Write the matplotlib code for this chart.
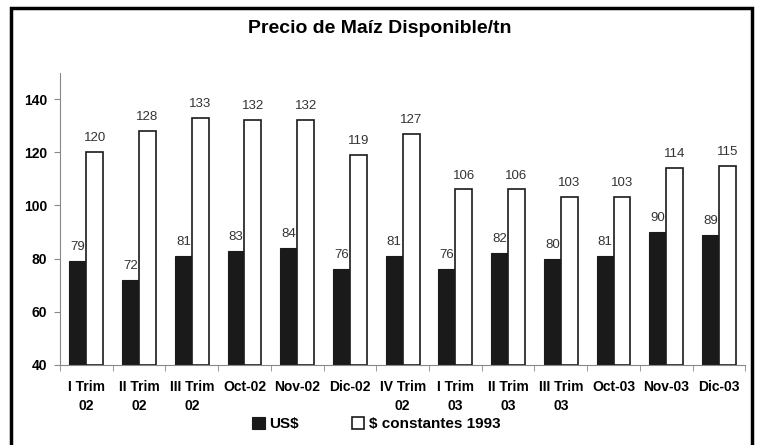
import matplotlib
matplotlib.use("Agg")
import matplotlib.pyplot as plt
import numpy as np
from matplotlib.patches import Rectangle

categories = ["I Trim\n02", "II Trim\n02", "III Trim\n02", "Oct-02", "Nov-02", "Dic-02",
              "IV Trim\n02", "I Trim\n03", "II Trim\n03", "III Trim\n03", "Oct-03", "Nov-03", "Dic-03"]
usd = [79, 72, 81, 83, 84, 76, 81, 76, 82, 80, 81, 90, 89]
constantes = [120, 128, 133, 132, 132, 119, 127, 106, 106, 103, 103, 114, 115]
yticks = [40, 60, 80, 100, 120, 140]

plt.rcParams['font.family'] = ['Liberation Sans', 'DejaVu Sans']

fig = plt.figure(figsize=(7.59, 4.45), dpi=100)
ax = fig.add_axes([0.079, 0.180, 0.903, 0.657])

x = np.arange(len(categories))
w = 0.32
b1 = ax.bar(x - w/2, [v - 40 for v in usd], w, bottom=40, color="#1a1a1a", edgecolor="#1a1a1a", linewidth=0.8, label="US$")
b2 = ax.bar(x + w/2, [v - 40 for v in constantes], w, bottom=40, color="white", edgecolor="#1a1a1a", linewidth=1.2, label="$ constantes 1993")

for xi, v in zip(x, usd):
    ax.text(xi - w/2, v + 3, str(v), ha="center", va="bottom", fontsize=9.5, color="#333333")
for xi, v in zip(x, constantes):
    ax.text(xi + w/2, v + 3, str(v), ha="center", va="bottom", fontsize=9.5, color="#333333")

ax.set_ylim(40, 150)
ax.set_xlim(-0.5, len(categories) - 0.5)
ax.set_yticks(yticks)
ax.set_yticklabels([str(t) for t in yticks], fontweight="bold", fontsize=10)
ax.set_xticks(x)
ax.set_xticklabels(categories, fontweight="bold", fontsize=10, linespacing=1.45)
ax.set_xticks(np.arange(-0.5, len(categories), 1), minor=True)
ax.tick_params(axis="x", which="major", length=0, pad=11)
ax.tick_params(axis="x", which="minor", length=4, color="#888888", direction="out")
ax.tick_params(axis="y", length=4, color="#888888", direction="out", pad=5)
for s in ["top", "right"]:
    ax.spines[s].set_visible(False)
ax.spines["left"].set_color("#888888")
ax.spines["bottom"].set_color("#888888")

fig.text(0.5, 0.937, "Precio de Maíz Disponible/tn", ha="center", va="center",
         fontsize=14, fontweight="heavy")

leg = fig.legend(handles=[b1, b2], loc="center", bbox_to_anchor=(0.496, 0.047), ncol=2,
                 frameon=False, handlelength=0.8, handleheight=0.8,
                 columnspacing=3.5, handletextpad=0.3, prop={"weight": "bold", "size": 11})

fig.patches.append(Rectangle((0.014, -0.05), 0.977, 1.032, transform=fig.transFigure,
                             fill=False, edgecolor="black", linewidth=2.5))

fig.savefig("out.png", dpi=100)
